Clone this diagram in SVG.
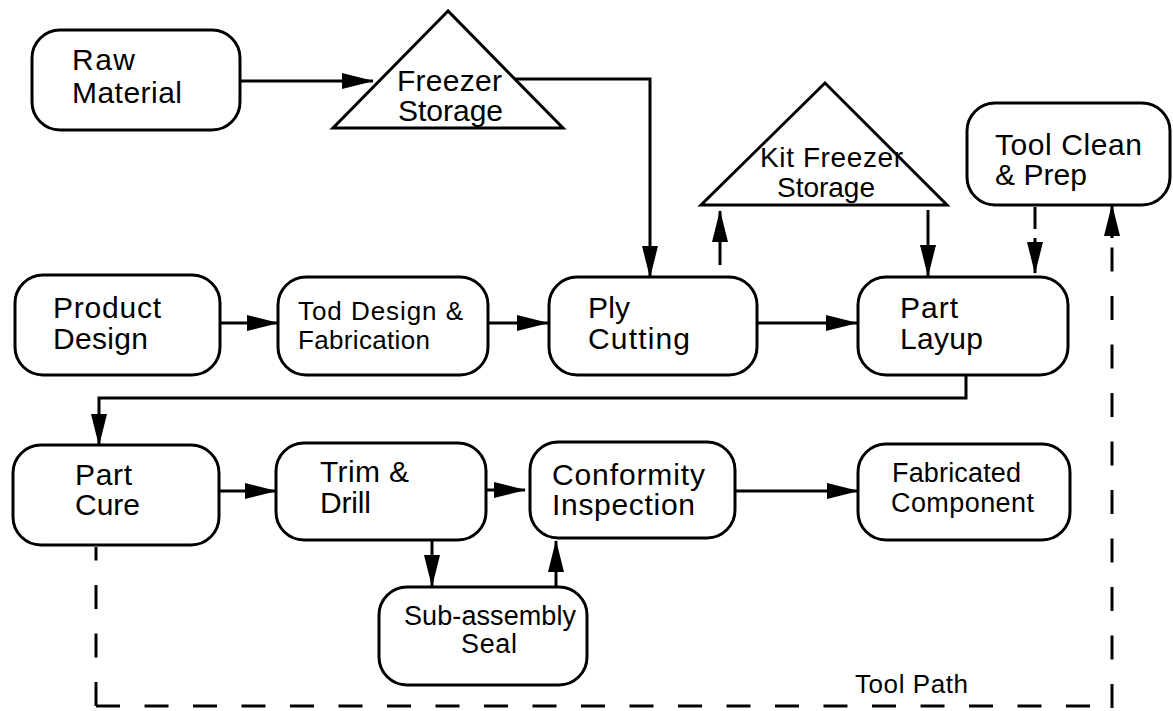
<svg xmlns="http://www.w3.org/2000/svg" width="1173" height="711" viewBox="0 0 1173 711">
<style>
.box{fill:#fff;stroke:#000;stroke-width:3}
.tri{fill:#fff;stroke:#000;stroke-width:3;stroke-linejoin:miter}
.t{font-family:"Liberation Sans",Arial,Helvetica,sans-serif;font-size:30px;fill:#000}
.s{font-size:27px}
.k{font-size:28px}
.c{fill:none;stroke:#000;stroke-width:3}
.a{marker-end:url(#ah)}
.d{stroke-dasharray:24 24.5}
</style>
<defs>
<marker id="ah" markerUnits="userSpaceOnUse" markerWidth="32" markerHeight="16" refX="31" refY="8" orient="auto">
<path d="M0,0 L32,8 L0,16 z" fill="#000"/>
</marker>
</defs>
<rect width="1173" height="711" fill="#fff"/>

<g id="connectors">
<line class="c a" x1="240" y1="81" x2="373" y2="81"/>
<path class="c a" d="M515,79 H650 V277"/>
<line class="c a" x1="220" y1="323" x2="278" y2="323"/>
<line class="c a" x1="488" y1="323" x2="548" y2="323"/>
<line class="c a" x1="757" y1="323" x2="857" y2="323"/>
<line class="c a" x1="720" y1="265" x2="720" y2="211"/>
<line class="c a" x1="928" y1="210" x2="928" y2="276"/>
<line class="c a" x1="1035" y1="207" x2="1035" y2="273" style="stroke-dasharray:22 9 60"/>
<path class="c a" d="M966,375 V398 H99 V445"/>
<line class="c a" x1="219" y1="491" x2="276" y2="491"/>
<line class="c a" x1="486" y1="490" x2="525" y2="490"/>
<line class="c a" x1="735" y1="491" x2="858" y2="491"/>
<line class="c a" x1="432" y1="540" x2="432" y2="586"/>
<line class="c a" x1="556" y1="587" x2="556" y2="541"/>
<path class="c d" d="M96,706 V547"/>
<path class="c d" d="M96,706 H1092"/>
<line class="c d" x1="1112" y1="708" x2="1112" y2="236"/>
<line class="c a" x1="1112" y1="238" x2="1112" y2="205"/>
</g>

<g id="raw-material">
<rect class="box" x="32" y="30" width="208" height="100" rx="28"/>
<text class="t" x="72" y="70" textLength="63" lengthAdjust="spacing">Raw</text>
<text class="t" x="72" y="103" textLength="110" lengthAdjust="spacing">Material</text>
</g>

<g id="freezer-storage">
<polygon class="tri" points="448,11 333,128 563,128"/>
<text class="t" x="397" y="91" textLength="105" lengthAdjust="spacing">Freezer</text>
<text class="t" x="398" y="121" textLength="105" lengthAdjust="spacing">Storage</text>
</g>

<g id="kit-freezer-storage">
<polygon class="tri" points="825,83 701,205 947,205"/>
<text class="t k" x="760" y="167" textLength="143" lengthAdjust="spacing">Kit Freezer</text>
<text class="t k" x="777" y="197" textLength="98" lengthAdjust="spacing">Storage</text>
</g>

<g id="tool-clean-prep">
<rect class="box" x="967" y="103" width="203" height="102" rx="28"/>
<text class="t" x="995" y="155" textLength="147" lengthAdjust="spacing">Tool Clean</text>
<text class="t" x="995" y="185" textLength="92" lengthAdjust="spacing">&amp; Prep</text>
</g>

<g id="product-design">
<rect class="box" x="15" y="275" width="205" height="100" rx="28"/>
<text class="t" x="53" y="318" textLength="108" lengthAdjust="spacing">Product</text>
<text class="t" x="53" y="349" textLength="95" lengthAdjust="spacing">Design</text>
</g>

<g id="tod-design-fabrication">
<rect class="box" x="278" y="277" width="210" height="98" rx="28"/>
<text class="t" x="298" y="320" style="font-size:26px" textLength="165" lengthAdjust="spacing">Tod Design &amp;</text>
<text class="t" x="298" y="349" style="font-size:26px" textLength="132" lengthAdjust="spacing">Fabrication</text>
</g>

<g id="ply-cutting">
<rect class="box" x="549" y="277" width="208" height="98" rx="28"/>
<text class="t" x="588" y="318" textLength="42" lengthAdjust="spacing">Ply</text>
<text class="t" x="588" y="349" textLength="102" lengthAdjust="spacing">Cutting</text>
</g>

<g id="part-layup">
<rect class="box" x="858" y="277" width="210" height="98" rx="28"/>
<text class="t" x="900" y="318" textLength="58" lengthAdjust="spacing">Part</text>
<text class="t" x="900" y="349" textLength="83" lengthAdjust="spacing">Layup</text>
</g>

<g id="part-cure">
<rect class="box" x="13" y="445" width="206" height="100" rx="28"/>
<text class="t" x="75" y="485" textLength="57" lengthAdjust="spacing">Part</text>
<text class="t" x="75" y="515" textLength="65" lengthAdjust="spacing">Cure</text>
</g>

<g id="trim-drill">
<rect class="box" x="276" y="443" width="210" height="97" rx="28"/>
<text class="t" x="320" y="482" textLength="89" lengthAdjust="spacing">Trim &amp;</text>
<text class="t" x="320" y="513" textLength="51" lengthAdjust="spacing">Drill</text>
</g>

<g id="conformity-inspection">
<rect class="box" x="530" y="442" width="205" height="96" rx="28"/>
<text class="t" x="552" y="485" textLength="153" lengthAdjust="spacing">Conformity</text>
<text class="t" x="552" y="515" textLength="143" lengthAdjust="spacing">Inspection</text>
</g>

<g id="fabricated-component">
<rect class="box" x="858" y="444" width="212" height="96" rx="28"/>
<text class="t s" x="892" y="482" textLength="129" lengthAdjust="spacing">Fabricated</text>
<text class="t s" x="891" y="512" textLength="143" lengthAdjust="spacing">Component</text>
</g>

<g id="sub-assembly-seal">
<rect class="box" x="379" y="587" width="208" height="98" rx="28"/>
<text class="t s" x="404" y="625" textLength="172" lengthAdjust="spacing">Sub-assembly</text>
<text class="t s" x="461" y="653" textLength="56" lengthAdjust="spacing">Seal</text>
</g>

<g id="tool-path-label">
<text class="t" x="855" y="693" style="font-size:26px" textLength="113" lengthAdjust="spacing">Tool Path</text>
</g>
</svg>
